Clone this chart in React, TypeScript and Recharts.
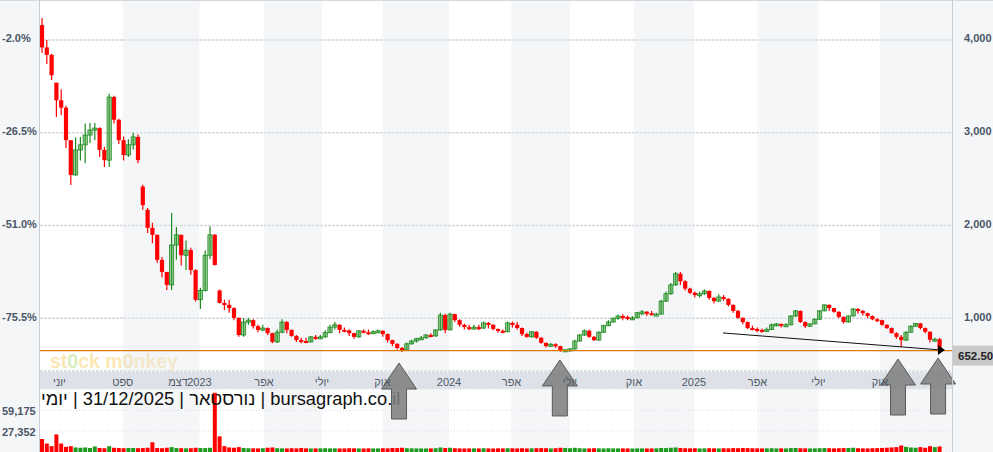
import React from "react";
import {
  ComposedChart,
  Bar,
  Cell,
  XAxis,
  YAxis,
  CartesianGrid,
  ReferenceArea,
  ReferenceLine,
  ReferenceDot,
} from "recharts";

const FONT = "'Liberation Sans', Arial, sans-serif";

// weekly candles, May 2022 -> Dec 2025 (one entry per week)
const opens = [
  4160, 3920, 3840, 3540, 3350, 3270, 2920, 2545, 2815, 2870,
  2975, 3030, 3050, 2815, 2705, 3385, 3140, 2920, 2760, 2870,
  2955, 2420, 2170, 1975, 1900, 1630, 1500, 1360, 1790, 1900,
  1680, 1735, 1520, 1200, 1300, 1680, 1900, 1300, 1165, 1145,
  1110, 1005, 820, 960, 980, 915, 875, 895, 840, 745,
  850, 960, 875, 810, 765, 755, 745, 800, 790, 800,
  845, 905, 930, 875, 870, 840, 800, 865, 850, 840,
  855, 865, 830, 765, 725, 680, 660, 725, 755, 780,
  790, 820, 810, 875, 1035, 875, 1045, 980, 930, 905,
  895, 905, 895, 950, 930, 885, 865, 855, 950, 930,
  895, 830, 800, 855, 790, 735, 700, 720, 700, 648,
  660, 670, 755, 820, 865, 800, 765, 850, 920, 960,
  1000, 1025, 1015, 1000, 1005, 1060, 1070, 1055, 1045, 1045,
  1185, 1265, 1360, 1480, 1400, 1320, 1275, 1250, 1265, 1295,
  1220, 1185, 1230, 1210, 1145, 1080, 1005, 960, 895, 885,
  875, 865, 880, 930, 940, 920, 930, 1025, 1080, 960,
  915, 940, 990, 1080, 1145, 1110, 1070, 1015, 960, 1025,
  1100, 1080, 1055, 1025, 990, 980, 930, 895, 840, 800,
  765, 850, 915, 945, 895, 855, 770, 775,
];
const highs = [
  4236, 4000, 3850, 3540, 3470, 3290, 2920, 2950, 2954, 3100,
  3104, 3104, 3060, 2850, 3420, 3400, 3150, 2960, 2930, 3000,
  2980, 2440, 2190, 2030, 1900, 1660, 1500, 2135, 1985, 1900,
  1840, 1760, 1530, 1330, 1730, 1990, 1910, 1310, 1200, 1200,
  1120, 1010, 1003, 1003, 990, 930, 930, 900, 845, 880,
  990, 970, 880, 820, 790, 790, 810, 820, 820, 870,
  930, 960, 935, 900, 880, 845, 875, 880, 880, 870,
  880, 870, 835, 770, 730, 690, 740, 770, 790, 810,
  830, 840, 880, 1060, 1050, 1060, 1050, 990, 940, 930,
  930, 930, 965, 960, 935, 890, 880, 965, 965, 960,
  900, 845, 860, 860, 795, 740, 735, 730, 705, 670,
  680, 770, 830, 880, 880, 810, 860, 930, 980, 1010,
  1040, 1045, 1030, 1025, 1065, 1090, 1080, 1080, 1060, 1200,
  1290, 1380, 1500, 1500, 1410, 1330, 1290, 1290, 1310, 1300,
  1230, 1260, 1250, 1215, 1150, 1090, 1010, 965, 920, 900,
  890, 900, 945, 950, 945, 950, 1030, 1090, 1085, 965,
  950, 1000, 1090, 1150, 1150, 1115, 1075, 1020, 1030, 1110,
  1110, 1090, 1060, 1030, 1000, 985, 935, 900, 850, 820,
  860, 925, 950, 950, 900, 860, 790, 790,
];
const lows = [
  3860, 3740, 3570, 3170, 3190, 2835, 2436, 2540, 2700, 2670,
  2890, 2920, 2740, 2630, 2630, 3100, 2880, 2700, 2740, 2820,
  2670, 2170, 1920, 1810, 1600, 1440, 1305, 1305, 1630, 1570,
  1520, 1470, 1180, 1100, 1290, 1640, 1570, 1160, 1090, 1060,
  980, 800, 800, 930, 890, 850, 860, 820, 730, 735,
  840, 840, 800, 745, 730, 730, 740, 770, 780, 790,
  840, 880, 840, 850, 810, 780, 790, 840, 820, 830,
  840, 800, 740, 700, 665, 637, 655, 715, 740, 765,
  780, 795, 800, 865, 840, 870, 960, 910, 880, 870,
  880, 870, 885, 890, 870, 845, 840, 850, 900, 880,
  810, 790, 790, 780, 725, 685, 690, 680, 637, 637,
  640, 660, 750, 810, 790, 755, 760, 845, 915, 955,
  985, 980, 980, 985, 1000, 1035, 1025, 1030, 1030, 1040,
  1175, 1250, 1350, 1360, 1300, 1260, 1225, 1225, 1250, 1200,
  1160, 1180, 1190, 1130, 1060, 995, 935, 885, 870, 850,
  845, 855, 875, 915, 900, 910, 925, 1015, 950, 895,
  905, 935, 985, 1075, 1080, 1060, 1000, 940, 955, 1020,
  1050, 1030, 1000, 980, 960, 920, 885, 835, 780, 690,
  755, 845, 905, 880, 840, 740, 750, 645,
];
const closes = [
  3920, 3840, 3620, 3350, 3270, 2920, 2545, 2815, 2870, 2975,
  3030, 3050, 2815, 2705, 3385, 3140, 2920, 2760, 2870, 2955,
  2705, 2220, 1975, 1900, 1630, 1500, 1360, 1790, 1900, 1680,
  1735, 1520, 1200, 1300, 1680, 1900, 1575, 1165, 1145, 1110,
  1005, 820, 960, 980, 915, 875, 895, 840, 745, 850,
  960, 875, 810, 765, 755, 745, 800, 790, 800, 845,
  905, 930, 875, 870, 840, 800, 865, 850, 840, 855,
  865, 830, 765, 725, 680, 660, 725, 755, 780, 790,
  820, 810, 875, 1035, 875, 1045, 980, 930, 905, 895,
  905, 895, 950, 930, 885, 865, 855, 950, 930, 895,
  830, 800, 855, 790, 735, 700, 720, 700, 648, 660,
  670, 755, 820, 865, 800, 765, 850, 920, 960, 1000,
  1025, 1015, 1000, 1005, 1060, 1070, 1055, 1045, 1045, 1185,
  1265, 1360, 1480, 1400, 1320, 1275, 1250, 1265, 1295, 1220,
  1185, 1230, 1210, 1145, 1080, 1005, 960, 895, 885, 875,
  865, 880, 930, 940, 920, 930, 1025, 1080, 960, 915,
  940, 990, 1080, 1145, 1110, 1070, 1015, 960, 1025, 1100,
  1080, 1055, 1025, 990, 980, 930, 895, 840, 800, 765,
  850, 915, 945, 895, 855, 770, 775, 652.5,
];
const volumes = [
  15000, 8000, 4000, 22000, 8000, 3000, 4000, 2000, 1500, 2000,
  1200, 3500, 1200, 800, 4000, 1500, 1200, 800, 1000, 1200,
  800, 1000, 1500, 10000, 1200, 800, 1500, 2500, 1000, 800,
  600, 800, 1500, 1200, 1000, 1500, 86000, 19000, 4000, 2000,
  1500, 2500, 1200, 800, 600, 500, 800, 1500, 2000, 800,
  600, 500, 800, 500, 1200, 600, 400, 500, 600, 800,
  500, 600, 400, 500, 800, 600, 500, 400, 600, 500,
  500, 800, 600, 1200, 1000, 1500, 800, 600, 500, 500,
  400, 500, 800, 2000, 1200, 1500, 800, 500, 400, 500,
  600, 500, 800, 500, 400, 600, 500, 800, 600, 500,
  800, 500, 600, 800, 1000, 800, 500, 800, 1500, 1200,
  800, 1500, 800, 600, 500, 800, 600, 500, 800, 600,
  500, 600, 500, 400, 600, 500, 400, 500, 600, 1200,
  1000, 1500, 2000, 1200, 800, 600, 800, 500, 600, 800,
  600, 500, 800, 600, 1000, 800, 1200, 1000, 800, 600,
  500, 600, 800, 500, 600, 500, 1000, 1200, 800, 600,
  500, 600, 800, 1000, 800, 600, 800, 1000, 1200, 1500,
  800, 600, 500, 800, 1000, 1200, 1500, 2000, 2500, 5000,
  3000, 2000, 1500, 2500, 1500, 4000, 2500, 3500,
];

// month ticks, in week units
const tickWeeks = [3.56, 16.73, 28.25, 32.73, 46.17, 58.25, 70.85, 84.71, 97.73, 109.92, 123.25, 135.75, 148.98, 161.69, 174.5];
const tickLabels = ["יוני", "ספט", "דצמ", "2023", "אפר", "יולי", "אוק", "2024", "אפר", "יולי", "אוק", "2025", "אפר", "יולי", "אוק"];
// shaded quarters [from, to] in week units
const shadedQuarters = [
  [16.73, 32.73], [46.17, 58.25], [70.85, 84.71], [97.73, 109.92],
  [123.25, 135.75], [148.98, 161.69], [174.5, 189.5],
];

const priceTicks = [1000, 2000, 3000, 4000];
const pctTicks = [-0.755, -0.51, -0.265, -0.02];
const volumeTicks = [27352, 59175];
const lastPrice = 652.5;
const basePrice = 4000 / 0.98;
// annotation arrows (week, price at the tip)
const arrowMarks = [
  { i: 74.3, p: 518 },
  { i: 107.8, p: 551 },
  { i: 178.25, p: 561 },
  { i: 186.6, p: 572 },
];
const trendFrom = { i: 141.8, p: 842 };
const trendTo = { i: 187.4, p: 658 };

const PRICE_MIN = 432;
const PRICE_MAX = 4431;
const VOL_FLOOR = -5000;
const VOL_TOP = 91800;
const X_DOMAIN: [number, number] = [-0.5, 189.5];

const rows = closes.map((c, i) => ({
  i,
  open: opens[i],
  high: highs[i],
  low: lows[i],
  close: c,
  vol: volumes[i],
}));

const Candle = (props: any) => {
  const { x, y, width, height, payload } = props;
  if (!payload) return null;
  const { open, high, low, close } = payload;
  const top = Math.min(y, y + height);
  const h = Math.abs(height);
  const k = h / Math.max(high - low, 1e-6);
  const up = close >= open;
  const bodyTop = top + (high - Math.max(open, close)) * k;
  const bodyH = Math.max(2, Math.abs(close - open) * k);
  const cx = x + width / 2;
  const color = up ? "#1f8a1f" : "#ff0000";
  return (
    <g>
      <line x1={cx} x2={cx} y1={top} y2={top + h} stroke={color} strokeWidth={1.2} />
      <rect
        x={cx - 2.1}
        y={bodyTop}
        width={4.2}
        height={bodyH}
        fill={up ? "rgba(70,165,70,0.55)" : "#ff0000"}
        stroke={up ? color : "none"}
        strokeWidth={0.8}
      />
    </g>
  );
};

const Arrow = ({ cx, cy }: any) => {
  if (cx == null || cy == null) return null;
  const pts = [
    [0, 0], [17.5, 26], [7.5, 26], [7.5, 56], [-7.5, 56], [-7.5, 26], [-17.5, 26],
  ].map(([dx, dy]) => `${cx + dx},${cy + dy}`).join(" ");
  return <polygon points={pts} fill="#7d7d7d" fillOpacity={0.85} stroke="#5a5a5a" strokeWidth={1} />;
};

const TrendHead = ({ cx, cy }: any) => {
  if (cx == null || cy == null) return null;
  return <polygon points={`${cx - 4},${cy - 5} ${cx + 3},${cy} ${cx - 4},${cy + 5}`} fill="#000" />;
};

const PriceTag = (props: any) => {
  const vb = props.viewBox || {};
  const x = (vb.x ?? 40) + (vb.width ?? 912) + 1;
  const y = vb.y ?? 350;
  return (
    <g>
      <rect x={x} y={y - 5} width={41} height={20} fill="#c9c9c9" />
      <text x={x + 5} y={y + 9.5} fontSize={11.5} fontWeight="bold" fill="#222" fontFamily={FONT}>
        {lastPrice.toFixed(2)}
      </text>
    </g>
  );
};

const axisText = { fontSize: 11, fontWeight: "bold" as const, fill: "#4a5566", fontFamily: FONT };

const PctTick = ({ y, payload }: any) => (
  <text x={2} y={y + 2.5} {...axisText}>{(payload.value * 100).toFixed(1)}%</text>
);
const PriceTick = ({ x, y, payload }: any) => (
  <text x={x + 12} y={y + 2.5} {...axisText}>{payload.value.toLocaleString("en-US")}</text>
);
const VolTick = ({ y, payload }: any) => (
  <text x={2} y={y + 5} {...axisText}>{payload.value.toLocaleString("en-US")}</text>
);
const MonthTick = ({ x, y, index }: any) => (
  <text x={x} y={y + 14.5} textAnchor="middle" fontSize={11} fill="#505a68" fontFamily={FONT}>
    {tickLabels[index]}
  </text>
);

export default function App() {
  return (
    <div style={{ position: "absolute", left: 0, top: 0, width: 993, height: 452, background: "#f5f6f8", overflow: "hidden", fontFamily: FONT }}>
      <div style={{ position: "absolute", left: 40, top: 0, width: 912, height: 452, background: "#fff" }} />
      <div style={{ position: "absolute", left: 40, top: 372, width: 912, height: 17, background: "#dee2e8" }} />

      {/* volume panel */}
      <div style={{ position: "absolute", left: 0, top: 389 }}>
        <ComposedChart width={993} height={63} data={rows} margin={{ top: 0, right: 41, bottom: 0, left: 0 }}>
          <XAxis type="number" dataKey="i" domain={X_DOMAIN} hide allowDataOverflow />
          <YAxis
            yAxisId="vol"
            type="number"
            domain={[VOL_FLOOR, VOL_TOP]}
            ticks={volumeTicks}
            interval={0}
            width={40}
            axisLine={false}
            tickLine={false}
            tick={<VolTick />}
            allowDataOverflow
          />
          <CartesianGrid yAxisId="vol" vertical={false} stroke="#d6dae0" strokeDasharray="1 2" />
          {shadedQuarters.map(([a, b], k) => (
            <ReferenceArea key={k} yAxisId="vol" x1={a} x2={b} fill="#e6e9ee" fillOpacity={0.4} stroke="none" ifOverflow="hidden" />
          ))}
          <Bar yAxisId="vol" dataKey={(d: any) => [VOL_FLOOR, d.vol]} barSize={4} isAnimationActive={false}>
            {rows.map((r, k) => (
              <Cell key={k} fill={r.close >= r.open ? "#1e9a1e" : "#ff0000"} />
            ))}
          </Bar>
        </ComposedChart>
      </div>

      <div
        dir="rtl"
        style={{ position: "absolute", left: 41, top: 388, fontSize: 18.3, lineHeight: "22px", color: "#111", whiteSpace: "nowrap", width: "max-content" }}
      >
        bursagraph.co.il | נורסטאר | 31/12/2025 | יומי
      </div>

      <div style={{ position: "absolute", left: 50, top: 352, fontSize: 19.5, fontWeight: "bold", lineHeight: "19px", color: "#fbe7b4", whiteSpace: "nowrap" }}>
        st<span style={{ color: "#d9edbf" }}>0</span>ck m<span style={{ color: "#f8e2a6" }}>0</span>nkey
      </div>

      {/* price panel */}
      <div style={{ position: "absolute", left: 0, top: 0 }}>
        <ComposedChart width={993} height={452} data={rows} margin={{ top: 0, right: 0, bottom: 63, left: 0 }}>
          <XAxis
            type="number"
            dataKey="i"
            domain={X_DOMAIN}
            ticks={tickWeeks}
            interval={0}
            height={18}
            axisLine={false}
            tickLine={false}
            tickSize={0}
            tickMargin={0}
            tick={<MonthTick />}
            allowDataOverflow
          />
          <YAxis
            yAxisId="pct"
            type="number"
            domain={[PRICE_MIN / basePrice - 1, PRICE_MAX / basePrice - 1]}
            ticks={pctTicks}
            interval={0}
            width={40}
            axisLine={false}
            tickLine={false}
            tick={<PctTick />}
            allowDataOverflow
          />
          <YAxis
            yAxisId="px"
            orientation="right"
            type="number"
            domain={[PRICE_MIN, PRICE_MAX]}
            ticks={priceTicks}
            interval={0}
            width={41}
            axisLine={false}
            tickLine={false}
            tickSize={0}
            tickMargin={0}
            tick={<PriceTick />}
            allowDataOverflow
          />
          <CartesianGrid yAxisId="px" vertical={false} stroke="#d2d7df" strokeWidth={1.5} strokeDasharray="3 1" />
          {shadedQuarters.map(([a, b], k) => (
            <ReferenceArea key={k} yAxisId="px" x1={a} x2={b} fill="#e6e9ee" fillOpacity={0.4} stroke="none" ifOverflow="hidden" />
          ))}
          <ReferenceLine yAxisId="px" y={lastPrice} stroke="#e07800" strokeWidth={1.3} label={(p: any) => <PriceTag {...p} />} />
          <Bar yAxisId="px" dataKey={(d: any) => [d.low, d.high]} barSize={4} shape={<Candle />} isAnimationActive={false} />
          <ReferenceLine
            yAxisId="px"
            segment={[{ x: trendFrom.i, y: trendFrom.p }, { x: trendTo.i, y: trendTo.p }]}
            stroke="#111"
            strokeWidth={1}
            ifOverflow="visible"
          />
          <ReferenceDot yAxisId="px" x={trendTo.i} y={trendTo.p} ifOverflow="visible" shape={(p: any) => <TrendHead {...p} />} />
          {arrowMarks.map((m, k) => (
            <ReferenceDot key={k} yAxisId="px" x={m.i} y={m.p} ifOverflow="visible" shape={(p: any) => <Arrow {...p} />} />
          ))}
        </ComposedChart>
      </div>

      <div style={{ position: "absolute", left: 0, top: 0, width: 993, height: 1, background: "#d5d9df" }} />
      <div style={{ position: "absolute", left: 39, top: 0, width: 1, height: 452, background: "#c9ced6" }} />
      <div style={{ position: "absolute", left: 952, top: 0, width: 1, height: 452, background: "#c9ced6" }} />
    </div>
  );
}
